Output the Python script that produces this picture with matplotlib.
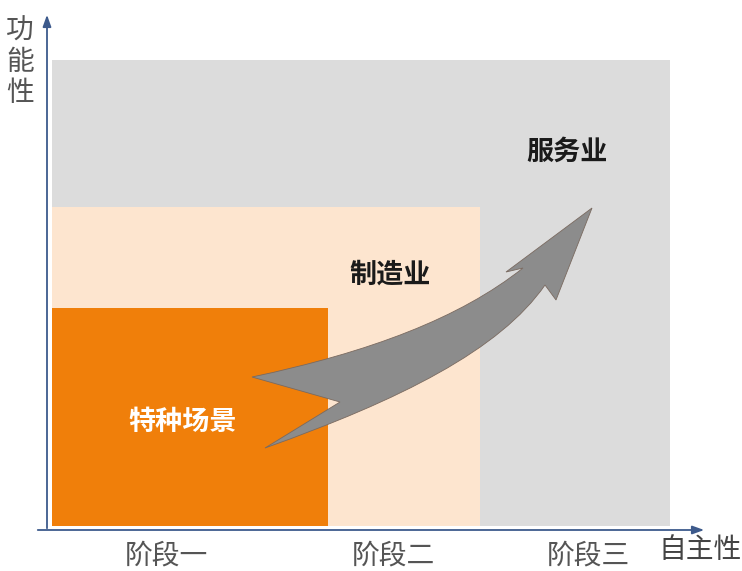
import matplotlib
matplotlib.use("Agg")
import matplotlib.pyplot as plt
from matplotlib.patches import Rectangle, PathPatch
from matplotlib.path import Path

plt.rcParams['font.family'] = ['Noto Sans CJK SC', 'DejaVu Sans']

# ---- data (pixel-like canvas coordinates, y downward) ----
stage_labels = ["阶段一", "阶段二", "阶段三"]
stage_label_x = [166, 393, 588]
zone_names = ["特种场景", "制造业", "服务业"]
zone_right = [328, 480, 670]
zone_top = [308, 207, 60]
zone_colors = ["#f07f0a", "#fde5cf", "#dcdcdc"]
zone_label_pos = [(183, 422), (390, 275), (567, 152)]
zone_label_colors = ["white", "#1a1a1a", "#1a1a1a"]
x_axis_label = "自主性"
y_axis_label = "功能性"

left, bottom = 52, 526

fig = plt.figure(figsize=(7.42, 5.71), dpi=100)
ax = fig.add_axes([0, 0, 1, 1])
ax.set_xlim(0, 742)
ax.set_ylim(571, 0)
ax.axis('off')
fig.patch.set_facecolor('white')

# zones, largest first
for r, t, c in reversed(list(zip(zone_right, zone_top, zone_colors))):
    ax.add_patch(Rectangle((left, t), r - left, bottom - t, facecolor=c, edgecolor='none', zorder=1))

# curved arrow
verts = [
    (252, 377),
    (370, 352), (460, 318), (523, 268),
    (506, 272),
    (592, 208),
    (556, 300),
    (545, 285),
    (500, 350), (400, 400), (265, 448),
    (340, 402),
    (252, 377),
]
codes = [Path.MOVETO,
         Path.CURVE4, Path.CURVE4, Path.CURVE4,
         Path.LINETO, Path.LINETO, Path.LINETO, Path.LINETO,
         Path.CURVE4, Path.CURVE4, Path.CURVE4,
         Path.LINETO, Path.CLOSEPOLY]
ax.add_patch(PathPatch(Path(verts, codes), facecolor='#8c8c8c', edgecolor='#7a6a60', lw=0.6, zorder=3))

# axes with arrows
axis_color = '#3d5a8c'
ax.annotate('', xy=(47, 12), xytext=(47, 531),
            arrowprops=dict(arrowstyle='-|>,head_length=0.7,head_width=0.25', color=axis_color, lw=1.3), zorder=4)
ax.annotate('', xy=(707, 530), xytext=(35, 530),
            arrowprops=dict(arrowstyle='-|>,head_length=0.7,head_width=0.25', color=axis_color, lw=1.3), zorder=4)

# labels
for name, (x, y), col in zip(zone_names, zone_label_pos, zone_label_colors):
    ax.text(x, y, name, fontsize=19.5, fontweight='bold', color=col, ha='center', va='center', zorder=5)

for lab, x in zip(stage_labels, stage_label_x):
    ax.text(x, 555, lab, fontsize=20, color='#555555', ha='center', va='center', zorder=5)

ax.text(700, 550, x_axis_label, fontsize=20, color='#444444', ha='center', va='center', zorder=5)
for i, ch in enumerate(y_axis_label):
    ax.text(20, 31 + i * 31, ch, fontsize=20, color='#555555', ha='center', va='center', zorder=5)

fig.savefig('out.png', dpi=100)
